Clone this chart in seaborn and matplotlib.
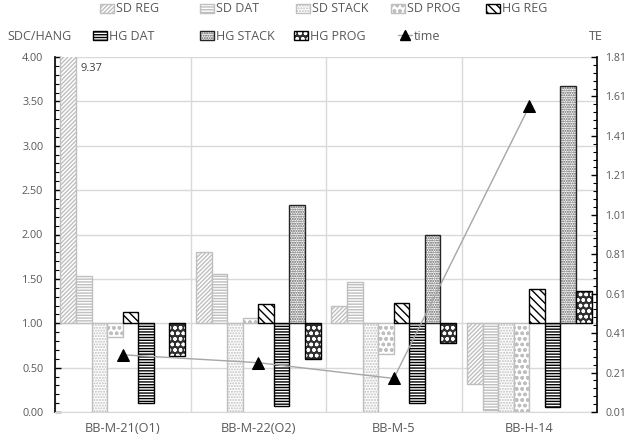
import numpy as np
import pandas as pd
import matplotlib
matplotlib.use("Agg")
import matplotlib.pyplot as plt
from matplotlib.ticker import MultipleLocator, FormatStrFormatter
from matplotlib.patches import Patch
from matplotlib.lines import Line2D
from matplotlib.colors import to_rgba
import seaborn as sns

# ---- data -------------------------------------------------------------
samples = ["BB-M-21(O1)", "BB-M-22(O2)", "BB-M-5", "BB-H-14"]
series_names = ["SD REG", "SD DAT", "SD STACK", "SD PROG",
                "HG REG", "HG DAT", "HG STACK", "HG PROG"]
sd_reg = [9.37, 1.80, 1.20, 0.32]
sd_dat = [1.53, 1.55, 1.47, 0.02]
sd_stack = [0.00, 0.00, 0.00, 0.00]
sd_prog = [0.84, 1.06, 0.65, 0.00]
hg_reg = [1.13, 1.22, 1.23, 1.39]
hg_dat = [0.10, 0.07, 0.10, 0.06]
hg_stack = [1.00, 2.33, 2.00, 3.67]
hg_prog = [0.63, 0.60, 0.78, 1.36]
time_te = [0.30, 0.26, 0.18, 1.56]

BASELINE = 1.0

# ---- styling ------------------------------------------------------------
sns.set_style("white")
plt.rcParams["font.family"] = ["Open Sans", "DejaVu Sans"]
plt.rcParams["hatch.linewidth"] = 1.0
TXT = "#595959"
LIGHT = "#bfbfbf"
GRID = "#d9d9d9"

styles = {
    "SD REG":   dict(face="white", edge=LIGHT, hatch="////////", hcol=None),
    "SD DAT":   dict(face="white", edge=LIGHT, hatch="------", hcol=None),
    "SD STACK": dict(face="white", edge=LIGHT, hatch="......", hcol=None),
    "SD PROG":  dict(face="white", edge=LIGHT, hatch="ooo", hcol=None),
    "HG REG":   dict(face="white", edge="black", hatch="\\\\\\\\", hcol=None),
    "HG DAT":   dict(face="white", edge="black", hatch="------", hcol=None),
    "HG STACK": dict(face="white", edge="#262626", hatch=".......", hcol="#595959"),
    "HG PROG":  dict(face="#303030", edge="black", hatch="ooo", hcol="white"),
}


def apply_style(patch, name):
    st = styles[name]
    patch.set_facecolor(st["face"])
    patch.set_edgecolor(st["edge"])
    patch.set_hatch(st["hatch"])
    patch.set_linewidth(1.0)
    if st["hcol"] is not None:
        if hasattr(patch, "set_hatchcolor"):
            patch.set_hatchcolor(st["hcol"])
        else:
            patch._hatch_color = to_rgba(st["hcol"])


values = dict(zip(series_names, [sd_reg, sd_dat, sd_stack, sd_prog,
                                 hg_reg, hg_dat, hg_stack, hg_prog]))
df = pd.DataFrame([
    {"sample": s, "series": name, "value": v}
    for name in series_names for s, v in zip(samples, values[name])
])
df["rise"] = df["value"] - BASELINE

fig = plt.figure(figsize=(6.3, 4.45), dpi=100)
ax = fig.add_axes([55 / 630, 1 - 412 / 445, 542 / 630, 355 / 445])

sns.barplot(data=df, x="sample", y="rise", hue="series", order=samples,
            hue_order=series_names, bottom=BASELINE, width=0.92,
            errorbar=None, saturation=1, legend=False, ax=ax)

for container, name in zip(ax.containers, series_names):
    for bar in container:
        apply_style(bar, name)
        bar.set_zorder(2)
        if bar.get_height() == 0:
            bar.set_visible(False)

# value label for the bar that runs off the top of the axis
ymax = 4.0
first = ax.containers[0][0]
if sd_reg[0] > ymax:
    ax.annotate(f"{sd_reg[0]:.2f}", xy=(first.get_x() + first.get_width(), ymax),
                xytext=(3, -4), textcoords="offset points", ha="left", va="top",
                fontsize=8, color="#404040", zorder=5)

ax.set_ylim(0, ymax)
ax.set_xlim(-0.5, len(samples) - 0.5)
ax.yaxis.set_major_locator(MultipleLocator(0.5))
ax.yaxis.set_minor_locator(MultipleLocator(0.1))
ax.yaxis.set_major_formatter(FormatStrFormatter("%.2f"))
ax.set_xticks(np.arange(-0.5, len(samples)), minor=True)
ax.grid(axis="y", which="major", color=GRID, lw=1)
ax.grid(axis="x", which="minor", color=GRID, lw=1)
ax.set_axisbelow(True)
ax.tick_params(axis="y", which="both", direction="in", left=True,
               colors="black", labelcolor=TXT, labelsize=7.8, pad=8.5)
ax.tick_params(axis="y", which="major", length=4, width=1)
ax.tick_params(axis="y", which="minor", length=3, width=0.8)
ax.tick_params(axis="x", which="both", length=0, labelcolor=TXT,
               labelsize=9.2, pad=7.5)
ax.set_xlabel("")
ax.set_ylabel("SDC/HANG", rotation=0, ha="left", va="center",
              fontsize=9, color=TXT)
ax.yaxis.set_label_coords(-0.088, 1.057)
for side in ["top", "right"]:
    ax.spines[side].set_visible(False)
ax.spines["left"].set_color("black")
ax.spines["left"].set_linewidth(1.2)
ax.spines["bottom"].set_color(GRID)

# ---- time line on the secondary axis ---------------------------------
ax2 = ax.twinx()
xpos = pd.Categorical(samples, categories=samples).codes
sns.lineplot(x=xpos, y=time_te, ax=ax2, color="#a6a6a6", lw=1,
             marker="^", markersize=8, markerfacecolor="black",
             markeredgecolor="black", sort=False, legend=False, zorder=4)
ax2.set_ylim(0.01, 1.81)
ax2.yaxis.set_major_locator(MultipleLocator(0.2, offset=0.01))
ax2.yaxis.set_minor_locator(MultipleLocator(0.04, offset=0.01))
ax2.yaxis.set_major_formatter(FormatStrFormatter("%.2f"))
ax2.tick_params(axis="y", which="both", direction="in", right=True,
                colors="black", labelcolor=TXT, labelsize=7.6, pad=6)
ax2.tick_params(axis="y", which="major", length=4, width=1)
ax2.tick_params(axis="y", which="minor", length=3, width=0.8)
ax2.set_ylabel("TE", rotation=0, ha="left", va="center", fontsize=9, color=TXT)
ax2.yaxis.set_label_coords(0.985, 1.057)
for side in ["top", "left", "bottom"]:
    ax2.spines[side].set_visible(False)
ax2.spines["right"].set_color("black")
ax2.spines["right"].set_linewidth(1.2)
ax2.set_xlim(-0.5, len(samples) - 0.5)

# ---- legend: two rows of evenly pitched entries --------------------------
def patch_handle(name):
    p = Patch()
    apply_style(p, name)
    return p


time_handle = Line2D([], [], color="#a6a6a6", lw=1, marker="^", markersize=7,
                     markerfacecolor="black", markeredgecolor="black")
legend_rows = [
    (9, [(100, patch_handle("SD REG"), "SD REG"),
         (200, patch_handle("SD DAT"), "SD DAT"),
         (296, patch_handle("SD STACK"), "SD STACK"),
         (391, patch_handle("SD PROG"), "SD PROG"),
         (486, patch_handle("HG REG"), "HG REG")]),
    (36, [(93, patch_handle("HG DAT"), "HG DAT"),
          (200, patch_handle("HG STACK"), "HG STACK"),
          (294, patch_handle("HG PROG"), "HG PROG"),
          (398, time_handle, "time")]),
]
for y_px, entries in legend_rows:
    for x_px, handle, label in entries:
        fig.legend([handle], [label], loc="center left",
                   bbox_to_anchor=(x_px / 630, 1 - y_px / 445),
                   frameon=False, fontsize=9, handlelength=1.15,
                   handleheight=0.75, handletextpad=0.1, labelcolor=TXT,
                   borderpad=0, borderaxespad=0)

fig.savefig("out.png", dpi=100)
